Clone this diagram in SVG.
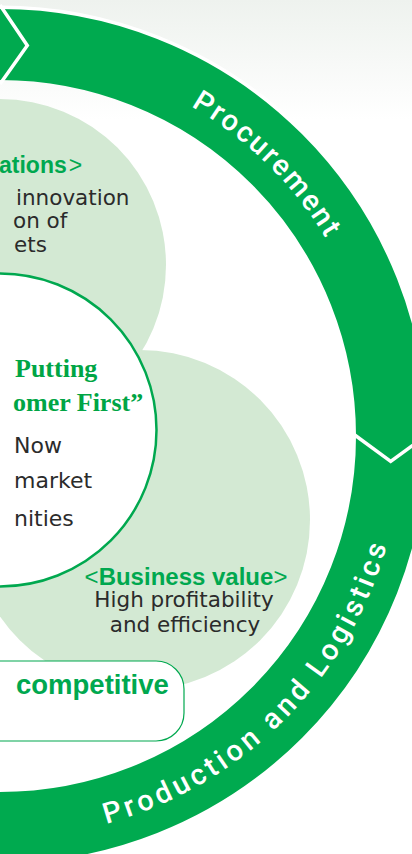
<svg xmlns="http://www.w3.org/2000/svg" width="412" height="854" viewBox="0 0 412 854">
<defs>
<linearGradient id="bg" x1="0" y1="0" x2="0" y2="1">
<stop offset="0" stop-color="#eef2ee"/>
<stop offset="0.14" stop-color="#ffffff"/>
<stop offset="1" stop-color="#ffffff"/>
</linearGradient>
<path id="arcTop" d="M 0,55 A 381 381 0 0 1 381,436"/>
<path id="arcBot" d="M 0,838 A 402 402 0 0 0 402,436"/>
<style>
.ring{fill:none;stroke:#00aa4f;stroke-width:71}
.chev{fill:none;stroke:#ffffff;stroke-width:3.5;stroke-linejoin:miter}
.soft{fill:#d3e9d3}
.band{font-family:Roboto,"Liberation Sans",sans-serif;font-weight:500;font-size:29px;fill:#ffffff}
.sp1{letter-spacing:2.2px}
.sp2{letter-spacing:3.9px}
.head{font-family:"Liberation Sans",Arial,sans-serif;font-weight:bold;font-size:23px;fill:#00a84f}
.big{font-size:27.5px}
.mid{font-size:24px}
.br{font-weight:normal}
.body{font-family:"DejaVu Sans",sans-serif;font-size:21.5px;fill:#2b2b2b}
.b22{font-size:22px}
.serif{font-family:"Liberation Serif","Times New Roman",serif;font-weight:bold;font-size:26px;fill:#00a545}
</style>
</defs>
<rect x="0" y="0" width="412" height="854" fill="url(#bg)"/>
<g id="cycle">
<circle cx="0" cy="436" r="428.5" fill="none" stroke="#ffffff" stroke-width="4"/>
<circle class="ring" cx="0" cy="436" r="391.5"/>
</g>
<g id="connectors">
<polyline class="chev" points="0,5 27.3,45.5 0,84"/>
<polyline class="chev" points="431,432 390.7,461.3 352,433"/>
<polyline class="chev" points="0,788 -27.3,826.5 0,868"/>
</g>
<g id="procurement">
<text class="band sp1"><textPath href="#arcTop" startOffset="49.5%" text-anchor="middle">Procurement</textPath></text>
</g>
<g id="production">
<text class="band sp2"><textPath href="#arcBot" startOffset="50%" text-anchor="middle">Production and Logistics</textPath></text>
</g>
<g id="innovations">
<circle class="soft" cx="0" cy="265" r="166"/>
<text class="head" x="-1" y="173">ations<tspan class="br" dx="2">&gt;</tspan></text>
<text class="body" x="16" y="205">innovation</text>
<text class="body" x="13" y="228">on of</text>
<text class="body" x="14" y="252">ets</text>
</g>
<g id="business-value">
<circle class="soft" cx="140" cy="520" r="170"/>
</g>
<g id="customer-first">
<circle cx="0" cy="430" r="156.5" fill="#ffffff" stroke="#00a84f" stroke-width="2.5"/>
<text class="serif" x="15" y="377">Putting</text>
<text class="serif" x="13" y="411">omer First”</text>
<text class="body b22" x="14" y="453">Now</text>
<text class="body b22" x="14" y="488">market</text>
<text class="body b22" x="14" y="526">nities</text>
</g>
<g id="business-value-text">
<text class="head mid" x="186" y="585" text-anchor="middle"><tspan class="br">&lt;</tspan>Business value<tspan class="br">&gt;</tspan></text>
<text class="body" x="184" y="607" text-anchor="middle">High profitability</text>
<text class="body" x="185" y="632" text-anchor="middle">and efficiency</text>
</g>
<g id="competitive">
<rect x="-40" y="661" width="224" height="80" rx="28" ry="28" fill="#ffffff" stroke="#00a84f" stroke-width="1.2"/>
<text class="head big" x="16" y="694">competitive</text>
</g>
</svg>
